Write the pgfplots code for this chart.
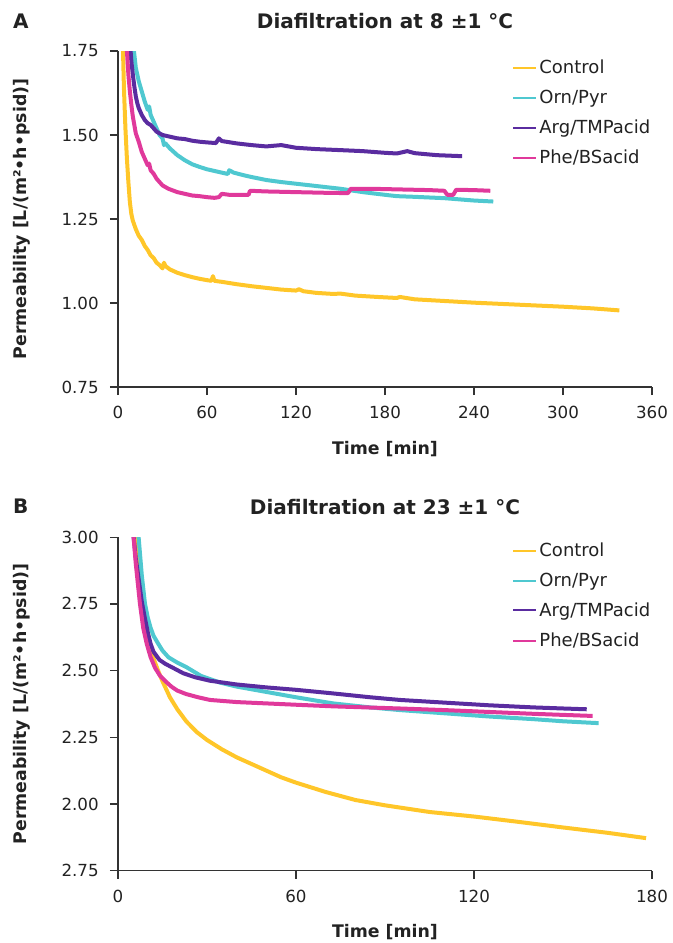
\documentclass[border=0pt]{standalone}
\usepackage{fontspec}
\setmainfont{DejaVu Sans}
\usepackage{pgfplots}
\pgfplotsset{compat=1.18}

\definecolor{ctrl}{HTML}{FFC629}
\definecolor{orn}{HTML}{4FC8D0}
\definecolor{arg}{HTML}{5A2CA0}
\definecolor{phe}{HTML}{E0399B}
\definecolor{axgray}{HTML}{333333}
\definecolor{txt}{HTML}{222222}

\pgfplotsset{
  panel/.style={
    scale only axis,
    width=400.5pt,
    clip mode=individual,
    axis lines=left,
    axis line style={-, axgray, line width=0.9pt},
    tick style={axgray, line width=0.9pt},
    tick align=outside,
    major tick length=6pt,
    xmin=0,
    ticklabel style={font=\fontsize{12.5}{14}\selectfont, text=txt},
    xticklabel style={yshift=-5pt},
    yticklabel style={xshift=-5pt},
    every axis title/.style={at={(axis description cs:0.5,#1)}, anchor=center,
      font=\bfseries\fontsize{15}{17}\selectfont, text=txt},
    every axis y label/.style={at={(axis description cs:-0.1798,0.5)}, rotate=90, anchor=center,
      font=\bfseries\fontsize{13}{15}\selectfont, text=txt},
    every axis x label/.style={at={(axis description cs:0.5,-0.185)}, anchor=center,
      font=\bfseries\fontsize{13}{15}\selectfont, text=txt},
    legend cell align=left,
    legend style={draw=none, fill=none, font=\fontsize{13.5}{15}\selectfont,
      row sep=6.8pt, text=txt},
    legend image code/.code={\draw[#1, line width=1.5pt] (0pt,0pt) -- (17pt,0pt);},
    every axis plot/.append style={line width=3pt, line join=round},
  }
}

\begin{document}
\begin{tikzpicture}
\path[use as bounding box] (0pt,0pt) rectangle (504.75pt,-707.25pt);

% ---------- panel A ----------
\begin{axis}[panel,
  at={(88.5pt,-290.25pt)}, anchor=south west,
  height=252pt,
  xmax=360, ymin=0.75, ymax=1.75,
  xtick={0,60,120,180,240,300,360},
  xticklabels={0,60,120,180,240,300,360},
  ytick={0.75,1.00,1.25,1.50,1.75},
  yticklabels={0.75,1.00,1.25,1.50,1.75},
  xlabel={Time [min]},
  ylabel={Permeability [L/(m²•h•psid)]},
  title={Diafiltration at 8 ±1 °C},
  every axis title/.append style={at={(axis description cs:0.5,1.089)}},
  legend style={at={(axis description cs:0.73,0.99)}, anchor=north west},
]
\addplot[ctrl] coordinates {(3.2,1.78)(4,1.64)(5,1.52)(6,1.43)(7,1.36)(8,1.30)(9,1.265)(10,1.245)(12,1.22)(14,1.20)(16,1.188)(18,1.17)(20,1.158)(22,1.142)(24,1.134)(26,1.12)(28,1.113)(30,1.103)(31,1.12)(32,1.11)(35,1.10)(40,1.09)(45,1.083)(50,1.077)(55,1.072)(60,1.068)(63,1.066)(64,1.08)(65,1.066)(70,1.063)(80,1.056)(90,1.05)(100,1.045)(110,1.04)(120,1.037)(122,1.041)(125,1.035)(134,1.03)(145,1.027)(150,1.028)(160,1.022)(175,1.018)(188,1.015)(190,1.018)(200,1.011)(220,1.006)(240,1.001)(260,0.997)(280,0.993)(300,0.989)(320,0.984)(338,0.978)};
\addplot[orn] coordinates {(10,1.78)(12,1.70)(14,1.66)(16,1.63)(18,1.60)(20,1.575)(21,1.585)(22,1.56)(24,1.54)(26,1.52)(28,1.50)(30,1.49)(31,1.47)(32,1.475)(35,1.46)(40,1.44)(45,1.425)(50,1.413)(55,1.405)(60,1.398)(65,1.393)(70,1.388)(74,1.384)(75,1.395)(78,1.388)(85,1.38)(90,1.375)(100,1.366)(110,1.36)(120,1.355)(134,1.348)(150,1.34)(165,1.33)(180,1.322)(188,1.318)(200,1.316)(220,1.312)(240,1.305)(253,1.302)};
\addplot[arg] coordinates {(8,1.78)(9,1.72)(10,1.68)(11,1.645)(12,1.615)(13,1.595)(14,1.58)(16,1.56)(18,1.545)(20,1.535)(22,1.53)(24,1.52)(26,1.51)(28,1.505)(30,1.50)(35,1.495)(40,1.49)(45,1.488)(50,1.483)(55,1.48)(60,1.478)(66,1.476)(68,1.49)(70,1.482)(80,1.475)(90,1.47)(100,1.466)(110,1.47)(120,1.462)(134,1.458)(150,1.455)(165,1.452)(180,1.447)(188,1.445)(195,1.452)(200,1.446)(215,1.44)(232,1.437)};
\addplot[phe] coordinates {(5.6,1.78)(7,1.68)(8,1.63)(9,1.59)(10,1.555)(11,1.53)(12,1.505)(14,1.48)(16,1.45)(18,1.43)(20,1.41)(21,1.415)(22,1.395)(24,1.385)(26,1.37)(28,1.36)(30,1.35)(34,1.34)(37,1.335)(40,1.33)(45,1.325)(50,1.32)(55,1.318)(60,1.315)(65,1.313)(68,1.315)(70,1.325)(75,1.322)(88,1.322)(89,1.334)(100,1.332)(120,1.33)(140,1.328)(155,1.327)(157,1.34)(170,1.34)(190,1.338)(210,1.336)(220,1.334)(222,1.322)(226,1.322)(228,1.337)(240,1.336)(251,1.334)};
\legend{Control,Orn/Pyr,Arg/TMPacid,Phe/BSacid}
\node[font=\bfseries\fontsize{15}{17}\selectfont, text=txt, anchor=west]
  at (axis description cs:-0.205,1.089) {A};
\end{axis}

% ---------- panel B ----------
\begin{axis}[panel,
  at={(88.5pt,-653pt)}, anchor=south west,
  height=250.1pt,
  xmax=180, ymin=1.75, ymax=3.00,
  xtick={0,60,120,180},
  xticklabels={0,60,120,180},
  ytick={1.75,2.00,2.25,2.50,2.75,3.00},
  yticklabels={2.75,2.00,2.25,2.50,2.75,3.00},
  xlabel={Time [min]},
  ylabel={Permeability [L/(m²•h•psid)]},
  title={Diafiltration at 23 ±1 °C},
  every axis title/.append style={at={(axis description cs:0.5,1.0915)}},
  legend style={at={(axis description cs:0.73,1.0)}, anchor=north west},
]
\addplot[ctrl] coordinates {(6.2,3.02)(7,2.90)(8,2.79)(9,2.71)(10,2.645)(11,2.59)(12,2.545)(13.5,2.50)(15,2.46)(17.5,2.40)(20,2.355)(23,2.31)(26.5,2.27)(30,2.24)(35,2.205)(40,2.175)(45,2.15)(50,2.125)(55,2.10)(60,2.08)(70,2.045)(80,2.015)(90,1.995)(105,1.97)(120,1.953)(135,1.933)(150,1.912)(165,1.892)(178,1.872)};
\addplot[orn] coordinates {(6.8,3.02)(8,2.86)(9.1,2.75)(10,2.70)(11,2.66)(12,2.63)(13.6,2.60)(15,2.575)(17,2.55)(20,2.53)(23.2,2.512)(28,2.48)(34.4,2.455)(40,2.44)(50,2.42)(60,2.40)(72.5,2.377)(85,2.362)(95,2.352)(110,2.34)(125,2.328)(140,2.318)(150,2.31)(162,2.303)};
\addplot[arg] coordinates {(5.1,3.02)(6,2.92)(7,2.84)(8,2.76)(9,2.70)(10,2.645)(11,2.60)(12,2.57)(14,2.54)(16,2.525)(18.6,2.51)(22,2.49)(26,2.475)(31,2.462)(40,2.448)(50,2.437)(60,2.428)(72,2.415)(85,2.40)(95,2.39)(110,2.38)(125,2.37)(140,2.362)(150,2.358)(158,2.355)};
\addplot[phe] coordinates {(5.1,3.02)(6,2.90)(7.4,2.75)(8.5,2.66)(9.7,2.60)(11,2.55)(12.5,2.51)(14.2,2.48)(16,2.46)(18,2.44)(20,2.425)(23,2.412)(27,2.40)(31,2.39)(40,2.382)(50,2.377)(60,2.372)(72.5,2.366)(95,2.358)(110,2.352)(125,2.345)(140,2.338)(150,2.334)(160,2.33)};
\legend{Control,Orn/Pyr,Arg/TMPacid,Phe/BSacid}
\node[font=\bfseries\fontsize{15}{17}\selectfont, text=txt, anchor=west]
  at (axis description cs:-0.205,1.0915) {B};
\end{axis}
\end{tikzpicture}
\end{document}
